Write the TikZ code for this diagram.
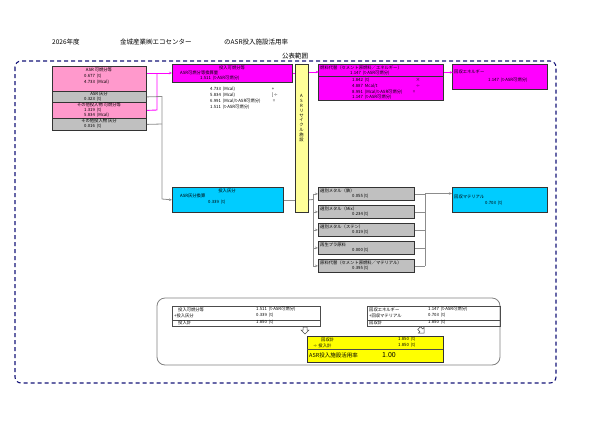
\documentclass[tikz,border=0pt]{standalone}
\usepackage{fontspec}
\setmainfont{Noto Sans CJK JP}
\usetikzlibrary{arrows.meta}
\definecolor{navyd}{RGB}{20,20,120}
\definecolor{mgc}{RGB}{255,0,255}
\definecolor{pkc}{RGB}{255,153,204}
\definecolor{cyc}{RGB}{0,204,255}
\definecolor{grc}{RGB}{192,192,192}
\definecolor{ylc}{RGB}{255,255,153}
\definecolor{ylb}{RGB}{255,255,0}
\begin{document}
\begin{tikzpicture}[x=1pt,y=-1pt,
 t/.style={font=\fontsize{4.3}{4.8}\selectfont,inner sep=0pt},
 bx/.style={draw=black!80,line width=0.8pt},
 pk/.style={bx,fill=pkc},
 mg/.style={bx,fill=mgc},
 gr/.style={bx,fill=grc},
 cy/.style={bx,fill=cyc},
 ml/.style={mgc,line width=0.9pt},
 gl/.style={black!45,line width=0.8pt},
 ar/.style={-{Stealth[length=3pt,width=2.5pt]}}]
\useasboundingbox (0,0) rectangle (603,424);
\node[t,font=\fontsize{6.5}{7}\selectfont,anchor=west] (yr) at (52,42) {2026年度};
\node[t,font=\fontsize{6.5}{7}\selectfont,anchor=west] (co) at (120,42) {金城産業㈱エコセンター};
\node[t,font=\fontsize{6.5}{7}\selectfont,anchor=west] (ti) at (224,42) {のASR投入施設活用率};
\node[t,font=\fontsize{6.5}{7}\selectfont] (pub) at (295,56) {公表範囲};
\draw[navyd,line width=1.1pt,rounded corners=6pt,dash pattern=on 4pt off 3pt] (15,61) rectangle (556,383);
% left boxes
\node[pk,minimum width=94,minimum height=25,anchor=north west] (p1) at (52,66) {};
\node[t] at (99,70) {ASR 可燃分等};
\node[t,anchor=west] at (84,76) {0.677 \ (t)};
\node[t,anchor=west] at (84,82) {4.733 \ (Mcal)};
\node[gr,minimum width=94,minimum height=11,anchor=north west] (g1) at (52,91) {};
\node[t] at (99,94) {ASR 灰分};
\node[t,anchor=west] at (84,99) {0.323 \ (t)};
\node[pk,minimum width=94,minimum height=16,anchor=north west] (p2) at (52,102) {};
\node[t] at (99,105) {その他投入物 可燃分等};
\node[t,anchor=west] at (84,110) {1.319 \ (t)};
\node[t,anchor=west] at (84,115) {5.834 \ (Mcal)};
\node[gr,minimum width=94,minimum height=12,anchor=north west] (g2) at (52,118) {};
\node[t] at (99,121) {その他投入物 灰分};
\node[t,anchor=west] at (84,126) {0.016 \ (t)};
% magenta input
\node[mg,minimum width=120,minimum height=18,anchor=north west] (m1) at (172,64) {};
\node[t] at (232,67.5) {投入可燃分等};
\node[t,anchor=west] at (180,72.5) {ASR可燃分等換算量};
\node[t,anchor=west] at (200,78) {1.511 \ (t-ASR可燃分)};
\node[t,anchor=west] (c1) at (210,89) {4.733 \ (Mcal)};
\node[t,anchor=west] at (210,95) {5.834 \ (Mcal)};
\node[t,anchor=west] at (210,101) {6.991 \ (Mcal/t-ASR可燃分)};
\node[t,anchor=west] at (210,107) {1.511 \ (t-ASR可燃分)};
\node[t] at (273,89) {+}; \node[t] at (275,95) {]÷}; \node[t] at (274,101) {=};
% yellow
\node[bx,fill=ylc,minimum width=13,minimum height=148,anchor=north west] (y) at (295,64) {};
\node[t,align=center] at (301.5,118) {A\\S\\R\\リ\\サ\\イ\\ク\\ル\\施\\設};
% magenta right
\node[mg,minimum width=125,minimum height=36,anchor=north west] (m2) at (318,64) {};
\draw[black!80,line width=0.6pt] (318,76) -- (443,76);
\node[t,anchor=west] at (320,68) {燃料代替（セメント原燃料／エネルギー）};
\node[t,anchor=west] at (350,73) {1.147 \ (t-ASR可燃分)};
\node[t,anchor=west] at (352,80) {1.842 \ (t)};
\node[t,anchor=west] at (352,86) {4.887 \ Mcal/t};
\node[t,anchor=west] at (352,92) {8.991 \ (Mcal/t-ASR可燃分)};
\node[t,anchor=west] at (352,97) {1.147 \ (t-ASR可燃分)};
\node[t] at (418,80) {×}; \node[t] at (418,86) {÷}; \node[t] at (414,92) {=};
\node[mg,minimum width=95,minimum height=25,anchor=north west] (m3) at (452,64) {};
\node[t,anchor=west] at (454,72) {回収エネルギー};
\node[t,anchor=west] at (488,80) {1.147 \ (t-ASR可燃分)};
% cyan
\node[cy,minimum width=111,minimum height=25,anchor=north west] (c2) at (172,187) {};
\node[t] at (227,190.5) {投入灰分};
\node[t,anchor=west] at (180,196) {ASR灰分換算};
\node[t,anchor=west] at (208,202) {0.339 \ (t)};
\node[cy,minimum width=95,minimum height=25,anchor=north west] (c3) at (452,187) {};
\node[t,anchor=west] at (454,197) {回収マテリアル};
\node[t,anchor=west] at (485,203) {0.703 \ (t)};
% gray outputs
\foreach \i/\yy/\a/\b in {1/187/選別メタル（鉄）/0.055,2/205/選別メタル（Mix）/0.234,3/223/選別メタル（ステン）/0.019,4/241/再生プラ原料/0.000,5/259/原料代替（セメント原燃料／マテリアル）/0.395}{
 \node[gr,minimum width=96,minimum height=13,anchor=north west] (o\i) at (318,\yy) {};
 \node[t,anchor=west] at (320,\yy+3.5) {\a};
 \node[t,anchor=west] at (352,\yy+9.5) {\b \ (t)};
}
% connectors
\coordinate (jm) at (157,73);
\draw[ml] (p1.east|-jm) -- (jm);
\draw[ml] (p2.east) -- (157,110) -- (jm);
\draw[ml,ar] (jm) -- (m1.west|-jm);
\draw[ml] (m1.east|-jm) -- (y.west|-jm);
\draw[ml,ar] (y.east|-m2.north) ++(0,8) -- ++(10,0);
\draw[ml,ar] (m2.east|-m3.west) ++(0,-4.5) -- ++(9,0);
\draw[gl] (g1.east) -- (162,96.5) -- (162,199);
\draw[gl] (g2.east) -- (162,124);
\draw[gl,ar] (162,199) -- (c2.west);
\draw[gl] (c2.east) -- (y.west|-c2.east);
\draw[gl] (y.east|-c2.east) -- (313,199.5);
\draw[gl] (313,193.5) -- (313,265.5);
\foreach \i in {1,...,5}{\draw[gl,ar] (313,0|-o\i.west) -- (o\i.west);
 \draw[gl] (o\i.east) -- (425,0|-o\i.east);}
\draw[gl] (425,193.5) -- (425,265.5);
\draw[gl,ar] (425,193.5) -- (c3.west|-425,193.5);
% summary
\draw[black!50,line width=0.8pt,rounded corners=8pt] (157,298) rectangle (500,365);
\node[draw=black!70,line width=0.6pt,minimum width=148,minimum height=20,anchor=north west] (s1) at (172,306) {};
\draw[black!70] (172,320) -- (320,320);
\node[t,anchor=west] at (178,309.5) {投入可燃分等}; \node[t,anchor=west] at (256,309.5) {1.511 \ (t-ASR可燃分)};
\node[t,anchor=west] at (174,315.5) {+投入灰分}; \node[t,anchor=west] at (256,315.5) {0.339 \ (t)};
\node[t,anchor=west] at (178,322.5) {投入計}; \node[t,anchor=west] at (256,322.5) {1.850 \ (t)};
\node[draw=black!70,line width=0.6pt,minimum width=133,minimum height=20,anchor=north west] (s2) at (367,306) {};
\draw[black!70] (367,320) -- (500,320);
\node[t,anchor=west] at (369,309.5) {回収エネルギー}; \node[t,anchor=west] at (428,309.5) {1.147 \ (t-ASR可燃分)};
\node[t,anchor=west] at (369,315.5) {+回収マテリアル}; \node[t,anchor=west] at (428,315.5) {0.703 \ (t)};
\node[t,anchor=west] at (369,322.5) {回収計}; \node[t,anchor=west] at (428,322.5) {1.850 \ (t)};
\node[draw=black!80,fill=ylb,line width=0.7pt,minimum width=136,minimum height=26,anchor=north west] (s3) at (307,336) {};
\draw[black!70] (307,349) -- (443,349);
\node[t,anchor=west] at (321,339.5) {回収計}; \node[t,anchor=west] at (398,339.5) {1.850 \ (t)};
\node[t,anchor=west] at (313,345.5) {÷ 投入計}; \node[t,anchor=west] at (398,345.5) {1.850 \ (t)};
\node[t,font=\fontsize{5.5}{6}\selectfont,anchor=west] at (309,355) {ASR投入施設活用率};
\node[t,font=\fontsize{7}{8}\selectfont,anchor=west] at (382,355) {1.00};
\draw[black!70,line width=0.5pt,fill=white] (303,327) -- (307,327) -- (307,330) -- (309,330) -- (305,334) -- (301,330) -- (303,330) -- cycle;
\begin{scope}[shift={(422,331)},rotate=45]
\draw[black!70,line width=0.5pt,fill=white] (-2,-4) -- (2,-4) -- (2,-1) -- (4,-1) -- (0,3) -- (-4,-1) -- (-2,-1) -- cycle;
\end{scope}
\end{tikzpicture}
\end{document}
